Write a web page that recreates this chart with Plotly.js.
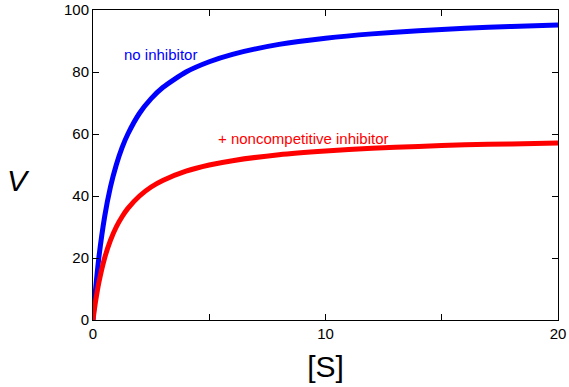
<!DOCTYPE html>
<html>
<head>
<meta charset="utf-8">
<script src="https://cdn.plot.ly/plotly-3.0.1.min.js"></script>
<style>html,body{margin:0;padding:0;background:#fff;}#chart{width:569px;height:387px;}</style>
</head>
<body>
<div id="chart"></div>
<script>
const substrate = [0, 0.05, 0.1, 0.25, 0.5, 0.75, 1, 1.25, 1.5, 2, 2.5, 3, 4, 5, 6, 8, 10, 12, 14, 16, 18, 20];
const vNoInhibitor = [0, 4.8, 9.1, 20, 33.3, 42.9, 50, 55.6, 60, 66.7, 71.4, 75, 80, 83.3, 85.7, 88.9, 90.9, 92.3, 93.3, 94.1, 94.7, 95.2];
const vNoncompetitive = [0, 2.9, 5.5, 12, 20, 25.7, 30, 33.3, 36, 40, 42.9, 45, 48, 50, 51.4, 53.3, 54.5, 55.4, 56, 56.5, 56.8, 57.1];
const xTickVals = [0, 5, 10, 15, 20];
const xTickText = ['0', '', '10', '', '20'];
const yTickVals = [0, 20, 40, 60, 80, 100];
const labels = ['no inhibitor', '+ noncompetitive inhibitor'];

const font = 'Liberation Sans, Arial, Helvetica, sans-serif';
const traces = [
  {x: substrate, y: vNoInhibitor, mode: 'lines', line: {color: '#0000ff', width: 5, shape: 'spline', smoothing: 0.6}, name: labels[0]},
  {x: substrate, y: vNoncompetitive, mode: 'lines', line: {color: '#ff0000', width: 5, shape: 'spline', smoothing: 0.6}, name: labels[1]}
];
const axisCommon = {showgrid: false, zeroline: false, showline: true, linecolor: '#000', linewidth: 1,
  mirror: 'ticks', ticks: 'inside', ticklen: 6, tickcolor: '#000', tickfont: {family: font, size: 15, color: '#000'}};
const plotW = 569 - 93 - 11, plotH = 387 - 10 - 67;
const layout = {
  width: 569, height: 387,
  margin: {l: 93, r: 11, t: 10, b: 67},
  paper_bgcolor: '#fff', plot_bgcolor: '#fff',
  showlegend: false,
  xaxis: Object.assign({}, axisCommon, {range: [0, 20], tickvals: xTickVals, ticktext: xTickText,
    title: {text: '[S]', font: {family: font, size: 30, color: '#000'}, standoff: 14}}),
  yaxis: Object.assign({}, axisCommon, {range: [0, 100], tickvals: yTickVals}),
  annotations: [
    {x: (18 - 93) / plotW, y: (387 - 67 - 180) / plotH, xref: 'paper', yref: 'paper', text: '<i>V</i>', showarrow: false,
      xanchor: 'center', yanchor: 'middle', font: {family: font, size: 30, color: '#000'}},
    {x: 1.25, y: 85.8, xref: 'x', yref: 'y', text: labels[0], showarrow: false, xanchor: 'left', yanchor: 'middle',
      font: {family: font, size: 15, color: '#0000ff'}},
    {x: 5.29, y: 58.7, xref: 'x', yref: 'y', text: labels[1], showarrow: false, xanchor: 'left', yanchor: 'middle',
      font: {family: font, size: 15, color: '#ff0000'}}
  ]
};
Plotly.newPlot('chart', traces, layout, {staticPlot: true, displayModeBar: false});
</script>
</body>
</html>
